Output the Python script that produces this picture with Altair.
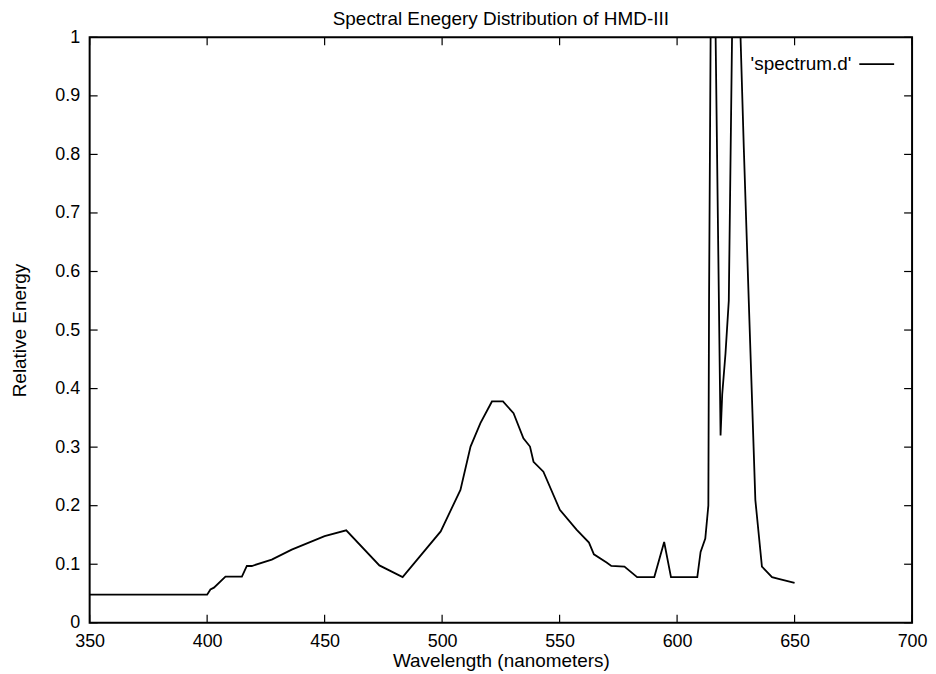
import altair as alt
import pandas as pd

# Spectrum data (wavelength in nm, relative energy)
wavelength = [350, 400, 401.4, 402.9, 407.8, 414.8, 416.9, 419, 427.5, 436,
              450, 459.2, 473.3, 483.2, 499.4, 507.8, 512.1, 516.3, 521.2, 525.9,
              530.4, 534.6, 537.4, 538.9, 543.1, 550.1, 557.2, 562.5, 564.6, 570,
              572, 577.6, 583, 590.3, 594.5, 597.4, 608.6, 610, 612, 613.3,
              613.6, 615, 616.4, 618.5, 619.2, 620.6, 622, 624.4, 627, 628.4,
              630.5, 633.3, 636.1, 640.4, 643.2, 650]
energy = [0.048, 0.048, 0.057, 0.06, 0.079, 0.079, 0.097, 0.097, 0.108, 0.125,
          0.148, 0.158, 0.098, 0.078, 0.156, 0.227, 0.301, 0.341, 0.378, 0.378,
          0.358, 0.315, 0.301, 0.275, 0.258, 0.193, 0.159, 0.137, 0.117, 0.103,
          0.097, 0.096, 0.078, 0.078, 0.138, 0.078, 0.078, 0.121, 0.144, 0.2,
          0.55, 1.5, 1.0, 0.32, 0.39, 0.46, 0.55, 1.33, 1.0, 0.81,
          0.55, 0.21, 0.096, 0.078, 0.075, 0.068]

x_ticks = [350, 400, 450, 500, 550, 600, 650, 700]
y_ticks = [0, 0.1, 0.2, 0.3, 0.4, 0.5, 0.6, 0.7, 0.8, 0.9, 1]

title_text = "Spectral Enegery Distribution of HMD-III"
x_title = "Wavelength (nanometers)"
y_title = "Relative Energy"
legend_label = "'spectrum.d'"

W, H = 826, 588
FONT = "Liberation Sans"

df = pd.DataFrame({"wl": wavelength, "e": energy})
xt = pd.DataFrame({"wl": x_ticks})
yt = pd.DataFrame({"e": y_ticks})

xscale = alt.Scale(domain=[350, 700], nice=False, zero=False)
yscale = alt.Scale(domain=[0, 1], nice=False)

xaxis = alt.Axis(title=x_title, values=x_ticks, ticks=False, domain=False, grid=False,
                 labelFlush=False, labelPadding=10, titlePadding=1)
yaxis = alt.Axis(title=y_title, values=y_ticks, format="~g", ticks=False, domain=False,
                 grid=False, labelFlush=False, labelPadding=10, titlePadding=25)

line = alt.Chart(df).mark_line(color="black", strokeWidth=1.8, clip=True).encode(
    x=alt.X("wl:Q", scale=xscale, axis=xaxis),
    y=alt.Y("e:Q", scale=yscale, axis=yaxis),
)

TL = 8
bottom_ticks = alt.Chart(xt).mark_rule(color="black", strokeWidth=1.2).encode(
    x=alt.X("wl:Q", scale=xscale, axis=xaxis),
    y=alt.value(H), y2=alt.value(H - TL))
top_ticks = alt.Chart(xt).mark_rule(color="black", strokeWidth=1.2).encode(
    x=alt.X("wl:Q", scale=xscale, axis=xaxis),
    y=alt.value(0), y2=alt.value(TL))
left_ticks = alt.Chart(yt).mark_rule(color="black", strokeWidth=1.2).encode(
    y=alt.Y("e:Q", scale=yscale, axis=yaxis),
    x=alt.value(0), x2=alt.value(TL))
right_ticks = alt.Chart(yt).mark_rule(color="black", strokeWidth=1.2).encode(
    y=alt.Y("e:Q", scale=yscale, axis=yaxis),
    x=alt.value(W), x2=alt.value(W - TL))

leg = pd.DataFrame({"label": [legend_label]})
legend_text = alt.Chart(leg).mark_text(align="right", baseline="middle", fontSize=19,
                                       font=FONT, color="black").encode(
    text="label:N", x=alt.value(765), y=alt.value(27))
legend_line = alt.Chart(leg).mark_rule(color="black", strokeWidth=1.8).encode(
    x=alt.value(773), x2=alt.value(808), y=alt.value(27))

chart = alt.layer(line, bottom_ticks, top_ticks, left_ticks, right_ticks,
                  legend_text, legend_line).properties(
    width=W, height=H,
    title=alt.TitleParams(title_text, fontSize=19, font=FONT, fontWeight="normal",
                          color="black", offset=3, dy=4, anchor="middle"),
    autosize=alt.AutoSizeParams(type="none"),
    padding={"left": 82, "top": 28, "right": 16, "bottom": 50},
    background="white",
).configure_view(
    stroke="black", strokeWidth=2
).configure_axis(
    labelFontSize=18, titleFontSize=19, labelColor="black", titleColor="black",
    titleFontWeight="normal", labelFont=FONT, titleFont=FONT
)

chart.save("out.html", embed_options={"renderer": "svg", "actions": False})
